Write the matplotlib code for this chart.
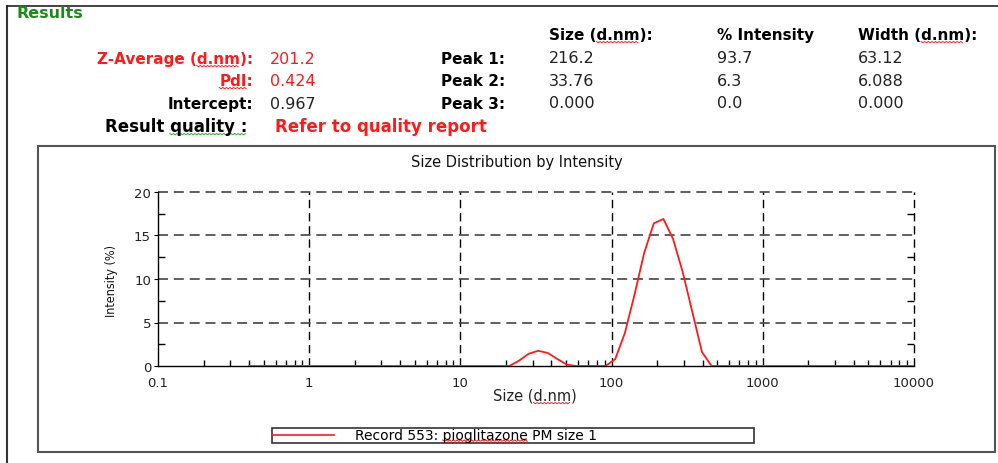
import matplotlib
matplotlib.use('Agg')
import matplotlib.pyplot as plt
from matplotlib.patches import Rectangle
from matplotlib.lines import Line2D
from matplotlib.ticker import FixedLocator, NullFormatter
from matplotlib import font_manager

plt.rcParams['font.family'] = ['DejaVu Sans']

# ---------------- data ----------------
sizes_nm = [0.4, 0.4632, 0.5365, 0.6213, 0.7195, 0.8332, 0.9649, 1.117, 1.294, 1.499,
            1.736, 2.010, 2.328, 2.696, 3.122, 3.615, 4.187, 4.849, 5.615, 6.503,
            7.531, 8.721, 10.10, 11.70, 13.54, 15.69, 18.17, 21.04, 24.36, 28.21,
            32.67, 37.84, 43.82, 50.75, 58.77, 68.06, 78.82, 91.28, 105.7, 122.4,
            141.8, 164.2, 190.1, 220.2, 255.0, 295.3, 342.0, 396.1, 458.7, 531.2,
            615.1, 712.4, 825.0, 955.4, 1106, 1281, 1484, 1718, 1990, 2305,
            2669, 3091, 3580, 4145, 4801, 5560, 6439, 7456, 8635, 10000]
intensity_pct = [0, 0, 0, 0, 0, 0, 0, 0, 0, 0,
                 0, 0, 0, 0, 0, 0, 0, 0, 0, 0,
                 0, 0, 0, 0, 0, 0, 0, 0, 0.6, 1.4,
                 1.75, 1.5, 0.8, 0.15, 0, 0, 0, 0, 0.8, 3.8,
                 8.2, 13.0, 16.4, 16.9, 14.6, 10.8, 6.2, 1.6, 0, 0,
                 0, 0, 0, 0, 0, 0, 0, 0, 0, 0,
                 0, 0, 0, 0, 0, 0, 0, 0, 0, 0]
x_major = [0.1, 1, 10, 100, 1000, 10000]
x_major_labels = ['0.1', '1', '10', '100', '1000', '10000']
y_major = [0, 5, 10, 15, 20]
y_minor = [2.5, 7.5, 12.5, 17.5]
legend_label = 'Record 553: pioglitazone PM size 1'

results_left = [('Z-Average (d.nm):', '201.2', 'red'),
                ('PdI:', '0.424', 'red'),
                ('Intercept:', '0.967', 'black')]
peak_names = ['Peak 1:', 'Peak 2:', 'Peak 3:']
col_headers = ['Size (d.nm):', '% Intensity', 'Width (d.nm):']
peak_size = ['216.2', '33.76', '0.000']
peak_int = ['93.7', '6.3', '0.0']
peak_width = ['63.12', '6.088', '0.000']

# ---------------- figure ----------------
W, H = 998, 464
fig = plt.figure(figsize=(W / 100, H / 100), dpi=100)


def fx(x):
    return x / W


def fy(y):
    return 1 - y / H


RED = '#ff1a1a'
DARK = '#222222'

# pick a condensed face for the rotated y label if one is installed
cond_family = None
for f in font_manager.fontManager.ttflist:
    if str(f.stretch) in ('condensed', 'semi-condensed', 'narrow') and f.style == 'normal':
        cond_family = f.name
        break
if cond_family is None:
    ylab_kw = dict(family=['Liberation Sans', 'DejaVu Sans'], fontsize=8.5)
else:
    ylab_kw = dict(family=[cond_family, 'DejaVu Sans'], stretch='condensed', fontsize=9)

squiggles = []  # (text artist, substring, colour, underline offset px)

# outer frame (left and top)
fig.add_artist(Line2D([fx(7), fx(7)], [fy(7), 0], color='#333333', lw=1.5))
fig.add_artist(Line2D([fx(7), 1], [fy(7), fy(7)], color='#222222', lw=1.2))

fig.text(fx(17), fy(18.5), 'Results', color='#1a8a1a', fontsize=11.5,
         fontweight='bold', ha='left', va='baseline')

row_base = [64, 86, 109]
for (lab, val, col), yb in zip(results_left, row_base):
    c = RED if col == 'red' else 'black'
    t = fig.text(fx(253), fy(yb), lab, color=c, fontsize=11, fontweight='bold',
                 ha='right', va='baseline')
    if 'd.nm' in lab:
        squiggles.append((t, 'd.nm', RED, yb + 2.5))
    if lab.startswith('PdI'):
        squiggles.append((t, 'PdI', RED, yb + 2.5))
    fig.text(fx(270), fy(yb), val, color=c if col == 'red' else DARK, fontsize=11.5,
             ha='left', va='baseline')

t = fig.text(fx(247), fy(132), 'Result quality :', color='black', fontsize=12,
             fontweight='bold', ha='right', va='baseline')
squiggles.append((t, 'quality :', '#22aa22', 134.5))
fig.text(fx(275), fy(132), 'Refer to quality report', color=RED, fontsize=12,
         fontweight='bold', ha='left', va='baseline')

col_x = [549, 717, 858]
for cx, h in zip(col_x, col_headers):
    t = fig.text(fx(cx), fy(40), h, color='black', fontsize=11, fontweight='bold',
                 ha='left', va='baseline')
    if 'd.nm' in h:
        squiggles.append((t, 'd.nm', RED, 42.5))
val_base = [63, 86, 107.5]
for i in range(3):
    fig.text(fx(505), fy(row_base[i]), peak_names[i], color='black', fontsize=11,
             fontweight='bold', ha='right', va='baseline')
    for cx, arr in zip(col_x, [peak_size, peak_int, peak_width]):
        fig.text(fx(cx), fy(val_base[i]), arr[i], color=DARK, fontsize=11.5,
                 ha='left', va='baseline')

# inner chart box
fig.add_artist(Rectangle((fx(38), fy(453)), fx(995 - 38), (453 - 147) / H,
                         fill=False, edgecolor='#555555', lw=1.5))

fig.text(fx(517), fy(167), 'Size Distribution by Intensity', fontsize=10.5,
         ha='center', va='baseline', color='#111111')

# axes
L, R, T, B = 158, 914, 193, 367
ax = fig.add_axes([fx(L), fy(B), (R - L) / W, (B - T) / H])
ax.set_xscale('log')
ax.set_xlim(x_major[0], x_major[-1])
ax.set_ylim(y_major[0], y_major[-1])

for xv in x_major[1:]:
    ax.axvline(xv, color='black', lw=1.0, dashes=(6, 3.5), clip_on=False, zorder=1)
for yv in y_major[1:]:
    ax.axhline(yv, color='#444444', lw=1.2, dashes=(6, 3.5), clip_on=False, zorder=1)

line, = ax.plot(sizes_nm, intensity_pct, color=RED, lw=1.3, zorder=3)

for s in ['top', 'right']:
    ax.spines[s].set_visible(False)
for s in ['left', 'bottom']:
    ax.spines[s].set_color('black')
    ax.spines[s].set_linewidth(1.0)
    ax.spines[s].set_zorder(2)

ax.xaxis.set_major_locator(FixedLocator(x_major))
ax.set_xticklabels(x_major_labels)
minors = [m * d for d in x_major[:-1] for m in range(2, 10)]
ax.xaxis.set_minor_locator(FixedLocator(minors))
ax.xaxis.set_minor_formatter(NullFormatter())
ax.yaxis.set_major_locator(FixedLocator(y_major))
ax.yaxis.set_minor_locator(FixedLocator(y_minor))
ax.tick_params(axis='x', which='major', length=0, pad=7, labelsize=9.5, labelcolor=DARK)
ax.tick_params(axis='x', which='minor', direction='in', length=4, width=1, color='black')
ax.tick_params(axis='y', which='major', direction='out', length=3, pad=2, labelsize=9.5,
               labelcolor=DARK)
ax.tick_params(axis='y', which='minor', direction='in', length=5, width=1,
               right=True, color='black')

t = fig.text(fx(535), fy(401), 'Size (d.nm)', fontsize=10.5, ha='center', va='baseline',
             color=DARK)
squiggles.append((t, 'd.nm', RED, 403.5))
fig.text(fx(112), fy(281), 'Intensity (%)', ha='center', va='center', rotation=90,
         color='#111111', **ylab_kw)

# legend box
fig.add_artist(Rectangle((fx(272), fy(444)), fx(754 - 272), 15 / H,
                         fill=False, edgecolor='#333333', lw=1.2))
fig.add_artist(Line2D([fx(272), fx(334)], [fy(436), fy(436)],
                      color=line.get_color(), lw=1.2))
t = fig.text(fx(355), fy(440), legend_label, fontsize=10, ha='left', va='baseline',
             color='black')
squiggles.append((t, 'pioglitazone', RED, 441))

# spell-check style wavy underlines (as in the source screenshot)
renderer = fig.canvas.get_renderer()
for art, sub, colr, yu in squiggles:
    s = art.get_text()
    k = s.index(sub)
    props = art.get_fontproperties()
    bb = art.get_window_extent(renderer)
    pre_w = renderer.get_text_width_height_descent(s[:k], props, ismath=False)[0] if k else 0
    sub_w = renderer.get_text_width_height_descent(sub, props, ismath=False)[0]
    x0 = bb.x0 + pre_w
    x1 = x0 + sub_w
    xs, ys = [], []
    xp, j = x0, 0
    while xp <= x1:
        xs.append(xp / W)
        ys.append(fy(yu + (1.2 if j % 2 else 0)))
        xp += 1.8
        j += 1
    fig.add_artist(Line2D(xs, ys, color=colr, lw=0.7))

fig.savefig('out.png', dpi=100)
